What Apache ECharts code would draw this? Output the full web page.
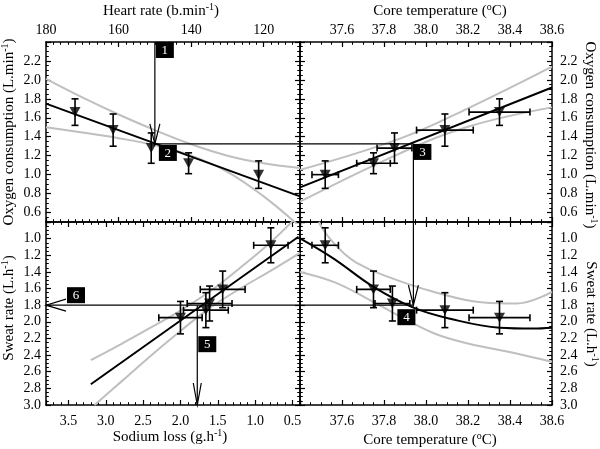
<!DOCTYPE html>
<html><head><meta charset="utf-8">
<script src="https://cdn.jsdelivr.net/npm/echarts@6/dist/echarts.min.js"></script>
<style>html,body{margin:0;padding:0;background:#fff}#c{width:600px;height:449px}</style>
</head><body><div id="c"></div>
<script>
// ---------------- DATA ----------------
// Top-left: heart rate vs oxygen consumption
const hrValues   = [172, 161.5, 151, 140.7, 121.4];
const vo2ByHr    = [1.66, 1.47, 1.28, 1.12, 1.00];
const vo2Err     = [0.14, 0.17, 0.16, 0.11, 0.145];
const hrFit      = [[180, 1.75], [110, 0.77]];
const hrBandUp   = [[180, 2.01], [170, 1.815], [160, 1.635], [150, 1.47], [140, 1.32], [130, 1.20], [120, 1.12], [110, 1.07]];
const hrBandLow  = [[180, 1.50], [170, 1.445], [160, 1.385], [150, 1.31], [140, 1.20], [130, 1.03], [120, 0.77], [110, 0.45]];

// Top-right: core temperature vs oxygen consumption
const tempVo2    = [37.52, 37.75, 37.85, 38.09, 38.35];
const vo2ByTemp  = [1.00, 1.12, 1.28, 1.47, 1.66];
const vo2ErrT    = [0.145, 0.11, 0.16, 0.17, 0.14];
const tempErrV   = [0.063, 0.08, 0.083, 0.135, 0.145];
const tempVo2Fit = [[37.4, 0.866], [38.6, 1.92]];
const tVo2BandUp = [[37.4, 1.05], [37.876, 1.38], [38.2, 1.70], [38.6, 2.14]];
const tVo2BandLo = [[37.4, 0.714], [37.876, 1.225], [38.2, 1.506], [38.6, 1.71]];

// Bottom-left: sodium loss vs sweat rate
const naValues   = [0.79, 1.435, 1.61, 1.66, 2.0];
const sweatByNa  = [1.08, 1.61, 1.78, 1.86, 1.95];
const naErr      = [0.23, 0.30, 0.30, 0.30, 0.29];
const sweatErrNa = [0.21, 0.22, 0.21, 0.21, 0.195];
const naFit      = [[3.2, 2.75], [0.42, 0.977]];
const naBandA    = [[3.2, 2.46], [2.8, 2.27], [2.4, 2.07], [2.0, 1.865], [1.6, 1.63], [1.2, 1.35], [0.8, 1.05], [0.49, 0.78]];
const naBandB    = [[3.15, 3.0], [2.8, 2.725], [2.4, 2.41], [2.0, 2.11], [1.6, 1.83], [1.2, 1.60], [0.8, 1.39], [0.4, 1.17]];

// Bottom-right: core temperature vs sweat rate
const tempSweat  = [37.52, 37.75, 37.84, 38.09, 38.35];
const sweatByT   = [1.08, 1.61, 1.78, 1.86, 1.95];
const sweatErrT  = [0.21, 0.22, 0.21, 0.21, 0.195];
const tempErrS   = [0.063, 0.08, 0.083, 0.135, 0.145];
const tSweatFit  = [[37.4, 0.997], [37.56, 1.24], [37.75, 1.58], [37.94, 1.83], [38.11, 1.96], [38.35, 2.07], [38.51, 2.08], [38.6, 2.07]];
const tSwBandUp  = [[37.49, 0.8], [37.511, 0.896], [37.559, 1.049], [37.606, 1.169], [37.67, 1.29], [37.797, 1.439], [38.035, 1.639], [38.273, 1.768], [38.432, 1.78], [38.6, 1.639]];
const tSwBandLo  = [[37.4, 1.40], [37.56, 1.52], [37.72, 1.72], [37.88, 1.94], [38.04, 2.14], [38.2, 2.26], [38.43, 2.38], [38.6, 2.48]];

// Worked example (lead lines)
const leadHr = 150, leadVo2 = 1.324, leadTemp = 37.94, leadSweat = 1.8, leadNa = 1.775;

// Axis ranges
const hrRange = [110, 180], vo2Range = [0.5, 2.4], tRange = [37.4, 38.6], naRange = [0.4, 3.8], swRange = [0.8, 3.0];
const boxLabels = ['1', '2', '3', '4', '5', '6'];

// ---------------- STYLE ----------------
const F = 'Liberation Serif';
const GREY = '#bfbfbf';
const grids = [
  {left: 46, top: 42, width: 254, height: 180},
  {left: 300, top: 42, width: 252, height: 180},
  {left: 46, top: 222, width: 254, height: 183},
  {left: 300, top: 222, width: 252, height: 183}
];

function axis(o) {
  const base = {
    type: 'value',
    axisLine: {show: true, onZero: false, lineStyle: {color: '#000', width: 1.5}},
    axisTick: {show: true, inside: true, length: 5, lineStyle: {color: '#000', width: 1.2}},
    minorTick: {show: true, splitNumber: 4, length: 2.8, lineStyle: {color: '#000', width: 1}},
    splitLine: {show: false},
    axisLabel: {show: false}
  };
  const r = Object.assign(base, o);
  if (o.minor) r.minorTick = Object.assign({}, base.minorTick, {splitNumber: o.minor});
  delete r.minor;
  return r;
}
function lbl(fmt, extra) {
  return Object.assign({show: true, interval: 0, fontFamily: F, fontSize: 14, color: '#000', formatter: fmt}, extra || {});
}
const f1 = v => (+v).toFixed(1);
const f0 = v => String(Math.round(v));

const hrAx = {min: hrRange[0], max: hrRange[1], inverse: true, splitNumber: 4, minInterval: 20, maxInterval: 20, minor: 10};
const tAx = {min: tRange[0], max: tRange[1], splitNumber: 6, minInterval: 0.2, maxInterval: 0.2, minor: 4};
const naAx = {min: naRange[0], max: naRange[1], inverse: true, splitNumber: 7, minInterval: 0.5, maxInterval: 0.5, minor: 5};
const vAx = {min: vo2Range[0], max: vo2Range[1], splitNumber: 10, minInterval: 0.2, maxInterval: 0.2, minor: 4};
const sAx = {min: swRange[0], max: swRange[1], inverse: true, splitNumber: 11, minInterval: 0.2, maxInterval: 0.2, minor: 4};

const xAxis = [
  axis(Object.assign({gridIndex: 0, position: 'top', axisLabel: lbl(f0, {margin: 5, showMinLabel: false})}, hrAx)),
  axis(Object.assign({gridIndex: 0, position: 'bottom'}, hrAx)),
  axis(Object.assign({gridIndex: 1, position: 'top', axisLabel: lbl(f1, {margin: 5, showMinLabel: false})}, tAx)),
  axis(Object.assign({gridIndex: 1, position: 'bottom'}, tAx)),
  axis(Object.assign({gridIndex: 2, position: 'top'}, naAx)),
  axis(Object.assign({gridIndex: 2, position: 'bottom', axisLabel: lbl(f1, {margin: 9, showMinLabel: false, showMaxLabel: false})}, naAx)),
  axis(Object.assign({gridIndex: 3, position: 'top'}, tAx)),
  axis(Object.assign({gridIndex: 3, position: 'bottom', axisLabel: lbl(f1, {margin: 9, showMinLabel: false})}, tAx))
];
const yAxis = [
  axis(Object.assign({gridIndex: 0, position: 'left', axisLabel: lbl(f1, {margin: 5, showMinLabel: false, showMaxLabel: false})}, vAx)),
  axis(Object.assign({gridIndex: 0, position: 'right'}, vAx)),
  axis(Object.assign({gridIndex: 1, position: 'left'}, vAx)),
  axis(Object.assign({gridIndex: 1, position: 'right', axisLabel: lbl(f1, {margin: 8, showMinLabel: false, showMaxLabel: false})}, vAx)),
  axis(Object.assign({gridIndex: 2, position: 'left', axisLabel: lbl(f1, {margin: 5, showMinLabel: false})}, sAx)),
  axis(Object.assign({gridIndex: 2, position: 'right'}, sAx)),
  axis(Object.assign({gridIndex: 3, position: 'left'}, sAx)),
  axis(Object.assign({gridIndex: 3, position: 'right', axisLabel: lbl(f1, {margin: 8, showMinLabel: false})}, sAx))
];

const P = [{x: 0, y: 0}, {x: 2, y: 3}, {x: 5, y: 4}, {x: 7, y: 7}];

function lineS(panel, data, color, width, smooth, z) {
  return {type: 'line', xAxisIndex: P[panel].x, yAxisIndex: P[panel].y, data: data, smooth: smooth ? 0.4 : false,
    showSymbol: false, symbol: 'none', silent: true, clip: true, z: z || 2,
    lineStyle: {color: color, width: width}};
}
function leadS(panel, data) {
  return {type: 'line', xAxisIndex: P[panel].x, yAxisIndex: P[panel].y, data: data, symbol: 'none', silent: true,
    clip: false, z: 3, lineStyle: {color: '#000', width: 1.2}};
}
function errRender(params, api) {
  const x = api.value(0), y = api.value(1), ex = api.value(2), ey = api.value(3);
  const c = api.coord([x, y]);
  const st = {stroke: '#000', lineWidth: 1.6};
  const cap = 3.5;
  const ch = [];
  if (ey > 0) {
    const a = api.coord([x, y + ey]), b = api.coord([x, y - ey]);
    ch.push({type: 'line', shape: {x1: c[0], y1: a[1], x2: c[0], y2: b[1]}, style: st});
    ch.push({type: 'line', shape: {x1: c[0] - cap, y1: a[1], x2: c[0] + cap, y2: a[1]}, style: st});
    ch.push({type: 'line', shape: {x1: c[0] - cap, y1: b[1], x2: c[0] + cap, y2: b[1]}, style: st});
  }
  if (ex > 0) {
    const a = api.coord([x + ex, y]), b = api.coord([x - ex, y]);
    ch.push({type: 'line', shape: {x1: a[0], y1: c[1], x2: b[0], y2: c[1]}, style: st});
    ch.push({type: 'line', shape: {x1: a[0], y1: c[1] - cap, x2: a[0], y2: c[1] + cap}, style: st});
    ch.push({type: 'line', shape: {x1: b[0], y1: c[1] - cap, x2: b[0], y2: c[1] + cap}, style: st});
  }
  return {type: 'group', children: ch};
}
function errS(panel, xs, ys, exs, eys) {
  return {type: 'custom', xAxisIndex: P[panel].x, yAxisIndex: P[panel].y, renderItem: errRender, silent: true, z: 4,
    encode: {x: 0, y: 1},
    data: xs.map((v, i) => [v, ys[i], exs ? exs[i] : 0, eys ? eys[i] : 0])};
}
function markS(panel, xs, ys) {
  return {type: 'scatter', xAxisIndex: P[panel].x, yAxisIndex: P[panel].y, symbol: 'triangle', symbolRotate: 180,
    symbolSize: [11, 10], itemStyle: {color: '#000'}, silent: true, z: 5,
    data: xs.map((v, i) => [v, ys[i]])};
}
// arrow heads: style = [dirX, dirY, length, halfWidth]
function arrowS(panel, tips, styles) {
  return {type: 'custom', xAxisIndex: P[panel].x, yAxisIndex: P[panel].y, silent: true, z: 6, encode: {x: 0, y: 1},
    data: tips,
    renderItem: function (params, api) {
      const p = api.coord([api.value(0), api.value(1)]);
      const s = styles[params.dataIndex];
      const px = -s[1], py = s[0];
      const bx = p[0] - s[0] * s[2], by = p[1] - s[1] * s[2];
      return {type: 'polyline', shape: {points: [[bx + px * s[3], by + py * s[3]], [p[0], p[1]], [bx - px * s[3], by - py * s[3]]]},
        style: {stroke: '#000', fill: 'none', lineWidth: 1.2}};
    }};
}
// numbered boxes: offsets in px relative to their anchor
function boxS(panel, anchors, idx, offs) {
  return {type: 'custom', xAxisIndex: P[panel].x, yAxisIndex: P[panel].y, silent: true, z: 7, encode: {x: 0, y: 1},
    data: anchors,
    renderItem: function (params, api) {
      const p = api.coord([api.value(0), api.value(1)]);
      const o = offs[params.dataIndex];
      const x0 = p[0] + o[0], y0 = p[1] + o[1];
      return {type: 'group', children: [
        {type: 'rect', shape: {x: x0, y: y0, width: 18, height: 16}, style: {fill: '#000'}},
        {type: 'text', style: {text: boxLabels[idx[params.dataIndex]], x: x0 + 9, y: y0 + 8.5, align: 'center', verticalAlign: 'middle',
          fill: '#fff', font: '13px "Liberation Serif"'}}
      ]};
    }};
}

const series = [
  lineS(0, hrBandUp, GREY, 2, true), lineS(0, hrBandLow, GREY, 2, true), lineS(0, hrFit, '#000', 2, false, 3),
  leadS(0, [[leadHr, vo2Range[1]], [leadHr, leadVo2], [hrRange[0], leadVo2]]),
  errS(0, hrValues, vo2ByHr, null, vo2Err), markS(0, hrValues, vo2ByHr),
  arrowS(0, [[leadHr, leadVo2]], [[0, 1, 20, 5]]),
  boxS(0, [[leadHr, vo2Range[1]], [leadHr, leadVo2]], [0, 1], [[1, 0], [4, 1]]),

  lineS(1, tVo2BandUp, GREY, 2, true), lineS(1, tVo2BandLo, GREY, 2, true), lineS(1, tempVo2Fit, '#000', 2, false, 3),
  leadS(1, [[tRange[0], leadVo2], [leadTemp, leadVo2], [leadTemp, vo2Range[0]]]),
  errS(1, tempVo2, vo2ByTemp, tempErrV, vo2ErrT), markS(1, tempVo2, vo2ByTemp),
  boxS(1, [[leadTemp, leadVo2]], [2], [[0, 0]]),

  lineS(2, naBandA, GREY, 2, true), lineS(2, naBandB, GREY, 2, true), lineS(2, naFit, '#000', 2, false, 3),
  leadS(2, [[naRange[1], leadSweat], [naRange[0], leadSweat]]),
  leadS(2, [[leadNa, leadSweat], [leadNa, swRange[1]]]),
  errS(2, naValues, sweatByNa, naErr, sweatErrNa), markS(2, naValues, sweatByNa),
  arrowS(2, [[naRange[1], leadSweat], [leadNa, swRange[1]]], [[-1, 0, 20, 6], [0, 1, 22, 4]]),
  boxS(2, [[leadNa, leadSweat], [naRange[1], leadSweat]], [4, 5], [[1, 31], [21, -18]]),

  lineS(3, tSwBandUp, GREY, 2, true), lineS(3, tSwBandLo, GREY, 2, true), lineS(3, tSweatFit, '#000', 2, true, 3),
  leadS(3, [[leadTemp, swRange[0]], [leadTemp, leadSweat], [tRange[0], leadSweat]]),
  errS(3, tempSweat, sweatByT, tempErrS, sweatErrT), markS(3, tempSweat, sweatByT),
  arrowS(3, [[leadTemp, leadSweat]], [[0, 1, 20, 5]]),
  boxS(3, [[leadTemp, leadSweat]], [3], [[-16, 4]])
];

function title(text, sup, tail, x, y, rot) {
  return {type: 'text', x: x, y: y, rotation: rot || 0, silent: true,
    style: {text: '{a|' + text + '}{s|' + sup + '}{a|' + tail + '}', align: 'center', verticalAlign: 'middle',
      rich: {a: {fontFamily: F, fontSize: 15, fill: '#000', lineHeight: 17},
             s: {fontFamily: F, fontSize: 10, fill: '#000', verticalAlign: 'top'}}}};
}
const R = Math.PI / 2;
const graphic = [
  title('Heart rate (b.min', '-1', ')', 161, 11),
  title('Core temperature (', 'o', 'C)', 440, 11),
  title('Oxygen consumption (L.min', '-1', ')', 9, 132, R),
  title('Oxygen consumption (L.min', '-1', ')', 590, 135, -R),
  title('Sweat rate (L.h', '-1', ')', 9, 308, R),
  title('Sweat rate (L.h', '-1', ')', 591, 314, -R),
  title('Sodium loss (g.h', '-1', ')', 170, 437),
  title('Core temperature (', 'o', 'C)', 430, 440)
];

const chart = echarts.init(document.getElementById('c'), null, {renderer: 'canvas'});
chart.setOption({animation: false, backgroundColor: '#fff', grid: grids, xAxis: xAxis, yAxis: yAxis, series: series, graphic: graphic});
</script></body></html>
